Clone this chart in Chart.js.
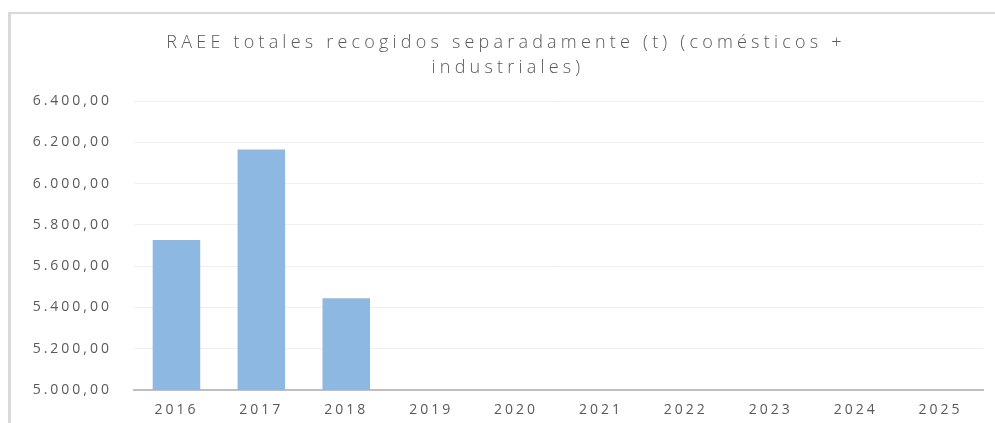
<!DOCTYPE html>
<html>
<head>
<meta charset="utf-8">
<script src="https://cdn.jsdelivr.net/npm/chart.js@4/dist/chart.umd.min.js"></script>
<style>
  html, body { margin: 0; padding: 0; background: #fff; }
  #wrap { position: relative; width: 995px; height: 423px; overflow: hidden; }
  #frame {
    position: absolute; left: 8px; top: 12px; width: 1000px; height: 420px;
    border-top: 2px solid #d9d9d9; border-left: 3px solid #d9d9d9;
  }
  #myChart { position: absolute; left: 0; top: 0; }
</style>
</head>
<body>
<div id="wrap">
  <div id="frame"></div>
  <canvas id="myChart" width="995" height="423"></canvas>
</div>
<script>
// Years on the x axis
const years = ['2016', '2017', '2018', '2019', '2020', '2021', '2022', '2023', '2024', '2025'];
// Tonnes collected per year (only the first three years reported)
const tonnes = [5727, 6165, 5444, null, null, null, null, null, null, null];
// Y axis range and step
const yMin = 5000;
const yMax = 6400;
const yStep = 200;
// Chart title, one entry per line
const titleLines = ['RAEE totales recogidos separadamente (t) (comésticos +', 'industriales)'];

// Format like 6.400,00
function formatTick(value) {
    const parts = value.toFixed(2).split('.');
    const intPart = parts[0].replace(/\B(?=(\d{3})+(?!\d))/g, '.');
    return intPart + ',' + parts[1];
}

// Wide spaced text for tick labels and a custom spaced title
const spacedText = {
    id: 'spacedText',
    beforeDraw(chart) {
        chart.ctx.letterSpacing = '3px';
    },
    afterDraw(chart) {
        const c = chart.ctx;
        c.save();
        c.letterSpacing = '4.2px';
        c.font = '300 18px "Open Sans"';
        c.fillStyle = '#595959';
        c.textAlign = 'center';
        c.textBaseline = 'alphabetic';
        c.fillText(titleLines[0], 506, 48);
        c.fillText(titleLines[1], 508, 73);
        c.restore();
        c.letterSpacing = '0px';
    }
};

const ctx = document.getElementById('myChart').getContext('2d');

const myChart = new Chart(ctx, {
    type: 'bar',
    data: {
        labels: years,
        datasets: [
            {
                label: 'RAEE',
                data: tonnes,
                backgroundColor: '#8db8e1',
                borderWidth: 0,
                barPercentage: 0.56,
                categoryPercentage: 1
            }
        ]
    },
    plugins: [spacedText],
    options: {
        responsive: false,
        animation: false,
        layout: {
            padding: { left: 0, right: 12, top: 101, bottom: 0 }
        },
        plugins: {
            legend: { display: false },
            tooltip: { enabled: false },
            title: { display: false }
        },
        scales: {
            x: {
                grid: { display: false, drawTicks: false },
                border: { color: '#bfbfbf', width: 2 },
                ticks: {
                    color: '#595959',
                    font: { family: 'Open Sans', size: 14 },
                    padding: 12,
                    autoSkip: false,
                    maxRotation: 0
                },
                afterFit: (scale) => { scale.height = 33; }
            },
            y: {
                min: yMin,
                max: yMax,
                grid: { color: '#efefef', lineWidth: 1, drawTicks: false },
                border: { display: false },
                ticks: {
                    stepSize: yStep,
                    color: '#595959',
                    font: { family: 'Open Sans', size: 14 },
                    padding: 22,
                    callback: (value) => formatTick(value)
                },
                afterFit: (scale) => { scale.width = 134; }
            }
        }
    }
});
</script>
</body>
</html>
